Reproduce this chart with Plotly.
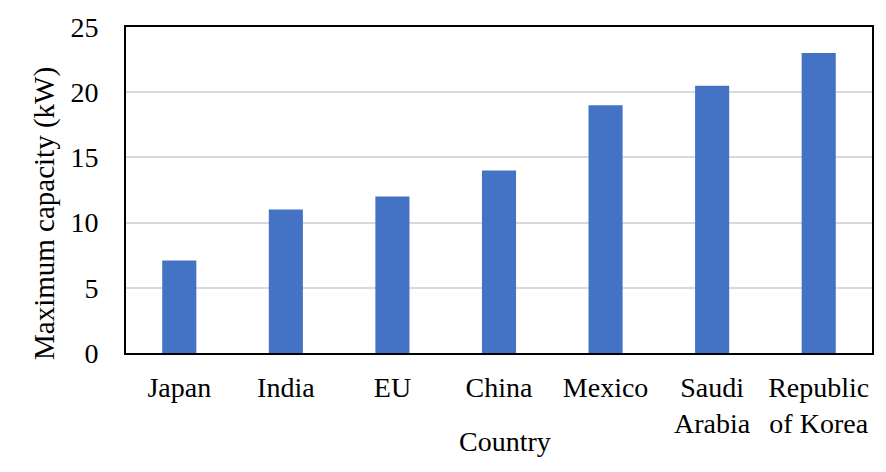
import plotly.graph_objects as go

categories = ["Japan", "India", "EU", "China", "Mexico", "Saudi<br>Arabia", "Republic<br>of Korea"]
values = [7.1, 11, 12, 14, 19, 20.5, 23]
y_ticks = [0, 5, 10, 15, 20, 25]

font_family = "Liberation Serif, Times New Roman, serif"
fs = 28

fig = go.Figure(go.Bar(x=categories, y=values, marker=dict(color="#4472c4", line=dict(width=0))))

fig.update_layout(
    width=886, height=472,
    margin=dict(l=126, r=14, t=27, b=119),
    plot_bgcolor="white", paper_bgcolor="white",
    bargap=0.68,
    showlegend=False,
    font=dict(family=font_family, size=fs, color="black"),
    annotations=[
        dict(
            text="Country", xref="paper", yref="paper", x=0.508, y=-0.27,
            xanchor="center", yanchor="middle", showarrow=False,
            font=dict(size=fs, family=font_family, color="black"),
        ),
        dict(
            text="Maximum capacity (kW)", xref="paper", yref="paper",
            x=(44 - 126) / 746, y=(353 - 214) / 326, textangle=-90,
            xanchor="center", yanchor="middle", showarrow=False,
            font=dict(size=29, family=font_family, color="black"),
        ),
    ],
)
fig.update_xaxes(
    showline=True, linecolor="black", linewidth=2, mirror=True,
    showgrid=False, ticks="", ticklabelstandoff=8,
    tickfont=dict(size=fs),
    automargin=False,
)
fig.update_yaxes(
    range=[0, 25], tickvals=y_ticks,
    showline=True, linecolor="black", linewidth=2, mirror=True,
    showgrid=True, gridcolor="#d9d9d9", gridwidth=2,
    zeroline=False, ticks="", ticklabelstandoff=20,
    tickfont=dict(size=fs),
    automargin=False,
)

fig.write_html(
    "out.html",
    config={"displayModeBar": False},
    post_script="document.body.style.margin='0';",
)
